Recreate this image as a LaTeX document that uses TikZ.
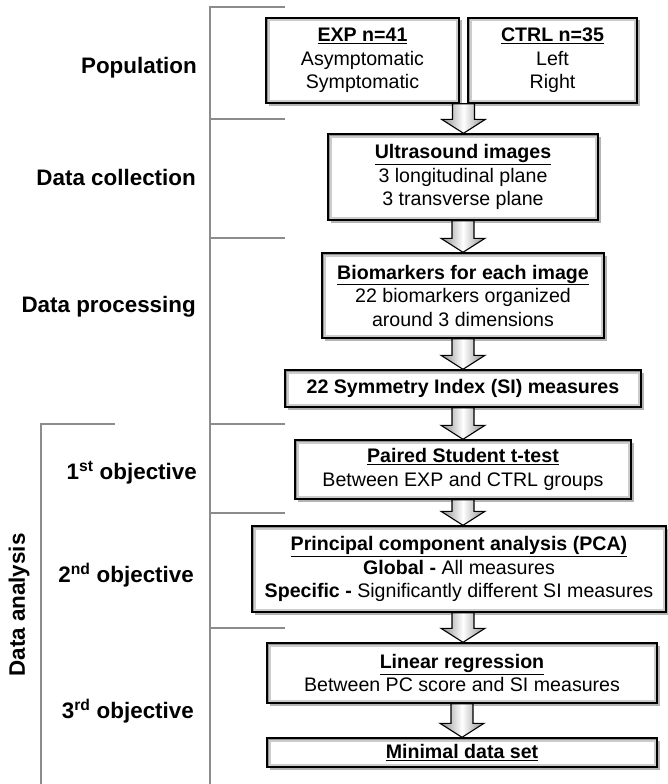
\documentclass[tikz,border=0pt]{standalone}
\usepackage{fontspec}
\setmainfont{Liberation Sans}
\usetikzlibrary{shadows,calc}
\tikzset{
  box/.style={draw=black, line width=1.4pt, fill=white, inner sep=0pt, align=center,
    font=\fontsize{19.6}{23.5}\selectfont,
    drop shadow={shadow xshift=2.5pt, shadow yshift=-2.5pt, opacity=0.6},
    path picture={
      \fill[black!42] (path picture bounding box.south west) rectangle (path picture bounding box.north east);
      \fill[black!20] ([shift={(1.5pt,1.5pt)}]path picture bounding box.south west) rectangle ([shift={(-1.5pt,-1.5pt)}]path picture bounding box.north east);
      \fill[white] ([shift={(3.5pt,3.5pt)}]path picture bounding box.south west) rectangle ([shift={(-3.5pt,-3.5pt)}]path picture bounding box.north east);
    }},
  lbl/.style={font=\fontsize{22.4}{26}\selectfont\bfseries, anchor=base east, inner sep=0pt},
  sepline/.style={draw=black!45, line width=1.8pt},
  fat/.style={draw=black, line width=1.1pt, left color=black!45, right color=black!45, middle color=white}
}
\newcommand\fatarrow[2]{\path[fat] let \p1=(#1), \p2=(#2) in
  (\x1-11pt,\y1) -- (\x1+11pt,\y1) -- (\x1+11pt,\y2+14pt) -- (\x1+22pt,\y2+14pt) -- (\x1,\y2)
  -- (\x1-22pt,\y2+14pt) -- (\x1-11pt,\y2+14pt) -- cycle;}
\begin{document}
\begin{tikzpicture}[x=1pt,y=-1pt]
\useasboundingbox (0,0) rectangle (668,784);
% separators
\draw[sepline] (210,784) -- (210,7) -- (285,7);
\foreach \yy in {119,238,424,513,628} \draw[sepline] (210,\yy) -- (285,\yy);
\draw[sepline] (115,424) -- (41,424) -- (41,784);
% labels
\node[lbl] (lpop) at (197,74) {Population};
\node[lbl] (lcol) at (196,185) {Data collection};
\node[lbl] (lproc) at (196,312) {Data processing};
\node[lbl] (lo1) at (197,479) {1\textsuperscript{st} objective};
\node[lbl] (lo2) at (194,582) {2\textsuperscript{nd} objective};
\node[lbl] (lo3) at (194,718) {3\textsuperscript{rd} objective};
\node[font=\fontsize{22.4}{26}\selectfont\bfseries, rotate=90, inner sep=0pt] (lda) at (19,605) {Data analysis};
% boxes
\node[box, minimum width=193pt, minimum height=85pt] (exp) at (362.5,60.5) {\textbf{\underline{EXP n=41}}\\Asymptomatic\\Symptomatic};
\node[box, minimum width=169pt, minimum height=85pt] (ctrl) at (552.5,60.5) {\textbf{\underline{CTRL n=35}}\\Left\\Right};
\node[box, minimum width=270pt, minimum height=86pt] (us) at (463,177) {\textbf{\underline{Ultrasound images}}\\3 longitudinal plane\\3 transverse plane};
\node[box, minimum width=282pt, minimum height=85pt] (bio) at (463,295.5) {\textbf{\underline{Biomarkers for each image}}\\22 biomarkers organized\\around 3 dimensions};
\node[box, minimum width=356pt, minimum height=37pt] (si) at (463,388.5) {\textbf{22 Symmetry Index (SI) measures}};
\node[box, minimum width=336pt, minimum height=59pt] (pt) at (463,469.5) {\textbf{\underline{Paired Student t-test}}\\Between EXP and CTRL groups};
\node[box, minimum width=414pt, minimum height=86pt] (pca) at (459,569) {\textbf{\underline{Principal component analysis (PCA)}}\\\textbf{Global -} All measures\\\textbf{Specific -} Significantly different SI measures};
\node[box, minimum width=390pt, minimum height=60pt] (lr) at (462,673) {\textbf{\underline{Linear regression}}\\Between PC score and SI measures};
\node[box, minimum width=390pt, minimum height=29pt] (mds) at (462,752.5) {\textbf{\underline{Minimal data set}}};
% arrows
\coordinate (a1) at ($(exp.south east)!0.5!(ctrl.south west)$);
\fatarrow{a1}{us.north}
\fatarrow{us.south}{bio.north}
\fatarrow{bio.south}{si.north}
\fatarrow{si.south}{pt.north}
\fatarrow{pt.south}{pca.north}
\coordinate (a6) at (pt.south |- pca.south);
\fatarrow{a6}{lr.north}
\fatarrow{lr.south}{mds.north}
\end{tikzpicture}
\end{document}
